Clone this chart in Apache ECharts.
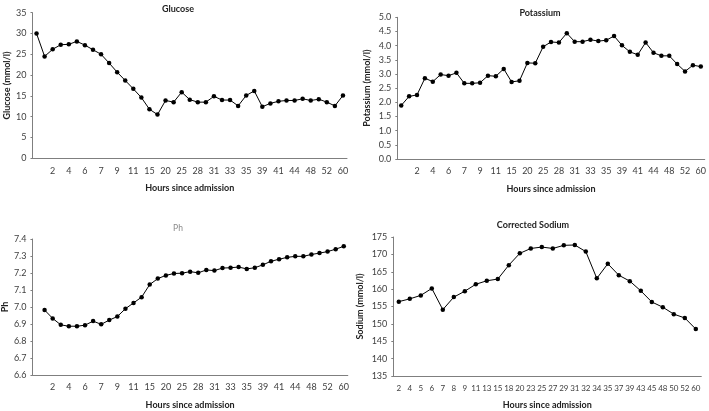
<!DOCTYPE html>
<html>
<head>
<meta charset="utf-8">
<script src="https://cdn.jsdelivr.net/npm/echarts@6/dist/echarts.min.js"></script>
<style>html,body{margin:0;padding:0;background:#fff;}#c{width:709px;height:411px;}</style>
</head>
<body>
<div id="c"></div>
<script>
// Hours (39 categories; the first is an unlabeled blank slot)
var hours39 = ["0","1","2","3","4","5","6","6.5","7","8","9","10","11","13","15","18","20","23","25","27","28","29","31","32","33","34","35","37","39","40","41","43","44","45","48","50","52","56","60"];
var hoursNa = ["2","4","5","6","7","8","9","11","13","15","18","20","23","25","27","29","31","32","34","35","37","39","43","45","48","50","52","60"];

var glucose = [30.0,24.5,26.2,27.3,27.4,28.1,27.2,26.1,25.0,22.9,20.7,18.7,16.7,14.6,11.8,10.5,13.9,13.5,15.9,14.1,13.5,13.5,14.9,14.0,14.0,12.6,15.1,16.2,12.4,13.2,13.7,13.9,13.9,14.3,13.9,14.2,13.5,12.6,15.1];
var potassium = [1.89,2.21,2.26,2.85,2.73,2.98,2.94,3.04,2.67,2.67,2.69,2.94,2.92,3.18,2.72,2.76,3.39,3.38,3.96,4.13,4.11,4.44,4.14,4.14,4.21,4.16,4.19,4.34,4.01,3.78,3.68,4.11,3.75,3.64,3.64,3.35,3.09,3.31,3.26];
var ph = [null,6.982,6.933,6.895,6.887,6.887,6.893,6.917,6.898,6.923,6.944,6.990,7.024,7.058,7.132,7.167,7.186,7.197,7.199,7.208,7.201,7.218,7.214,7.229,7.231,7.235,7.224,7.231,7.248,7.269,7.281,7.292,7.298,7.298,7.309,7.317,7.326,7.340,7.357];
var sodium = [156.4,157.2,158.2,160.2,154.1,157.7,159.4,161.4,162.4,162.9,166.9,170.3,171.7,172.1,171.7,172.6,172.7,170.8,163.1,167.3,164.0,162.3,159.5,156.3,154.8,152.8,151.7,148.5];

var FONT = "Lato";
var axisColor = '#7f7f7f';
var labelColor = '#404040';

function xAxis(gi, data, everyOther, gap) {
  return {
    type: 'category', gridIndex: gi, data: data, boundaryGap: true,
    name: 'Hours since admission', nameLocation: 'middle', nameGap: gap,
    nameTextStyle: {fontFamily: FONT, fontSize: 9, fontWeight: 'bold', color: '#222'},
    axisLine: {lineStyle: {color: axisColor, width: 1}},
    axisTick: {show: false},
    axisLabel: {
      fontFamily: FONT, fontSize: everyOther ? 9 : 8, color: labelColor, margin: 8,
      interval: everyOther ? function (i) { return i > 0 && i % 2 === 0; } : 0
    },
    splitLine: {show: false}
  };
}
function yAxis(gi, name, min, max, interval, dec, gap) {
  return {
    type: 'value', gridIndex: gi, min: min, max: max, interval: interval,
    name: name, nameLocation: 'middle', nameGap: gap, nameRotate: 90,
    nameTextStyle: {fontFamily: FONT, fontSize: 9, fontWeight: 'bold', color: '#222'},
    axisLine: {show: true, lineStyle: {color: axisColor, width: 1}},
    axisTick: {show: true, length: 2, lineStyle: {color: axisColor}},
    axisLabel: {fontFamily: FONT, fontSize: 9, color: labelColor, margin: 6,
      formatter: function (v) { return v.toFixed(dec); }},
    splitLine: {show: false}
  };
}
function series(i, data) {
  return {
    type: 'line', xAxisIndex: i, yAxisIndex: i, data: data,
    symbol: 'circle', symbolSize: 4.5, connectNulls: false,
    lineStyle: {color: '#000', width: 1},
    itemStyle: {color: '#000'},
    animation: false
  };
}

var chart = echarts.init(document.getElementById('c'), null, {renderer: 'canvas'});
chart.setOption({
  backgroundColor: '#fff',
  animation: false,
  title: [
    {text: 'Glucose', left: 173, top: 0, textAlign: 'center', textStyle: {fontFamily: FONT, fontSize: 9, fontWeight: 'bold', color: '#222'}},
    {text: 'Potassium', left: 535, top: 4, textAlign: 'center', textStyle: {fontFamily: FONT, fontSize: 9, fontWeight: 'bold', color: '#222'}},
    {text: 'Ph', left: 173, top: 219, textAlign: 'center', textStyle: {fontFamily: FONT, fontSize: 8.5, fontWeight: 'normal', color: '#8a8a8a'}},
    {text: 'Corrected Sodium', left: 528, top: 216, textAlign: 'center', textStyle: {fontFamily: FONT, fontSize: 9, fontWeight: 'bold', color: '#222'}}
  ],
  grid: [
    {left: 32.5, top: 12.7, width: 314.5, height: 145.6},
    {left: 397.3, top: 17.3, width: 309, height: 141.7},
    {left: 32.3, top: 239, width: 315.5, height: 140.3},
    {left: 393.3, top: 237, width: 308, height: 141.7}
  ],
  xAxis: [
    xAxis(0, hours39, true, 25),
    xAxis(1, hours39, true, 26),
    xAxis(2, hours39, true, 26),
    xAxis(3, hoursNa, false, 25)
  ],
  yAxis: [
    yAxis(0, 'Glucose (mmol/l)', 0, 35, 5, 0, 21),
    yAxis(1, 'Potassium (mmol/l)', 0, 5, 0.5, 1, 26),
    yAxis(2, 'Ph', 6.6, 7.4, 0.1, 1, 21),
    yAxis(3, 'Sodium (mmol/l)', 135, 175, 5, 0, 29)
  ],
  series: [series(0, glucose), series(1, potassium), series(2, ph), series(3, sodium)]
});
</script>
</body>
</html>
